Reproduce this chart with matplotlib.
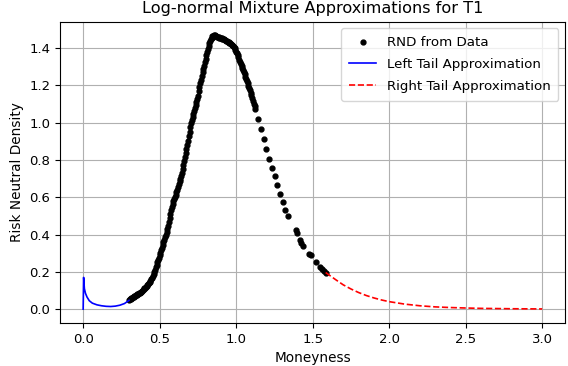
import matplotlib
matplotlib.use("Agg")
import matplotlib.pyplot as plt

# RND points read from the data (moneyness, density)
rnd_x = [0.300, 0.305, 0.310, 0.315, 0.320, 0.325, 0.330, 0.335, 0.340, 0.345,
         0.350, 0.355, 0.360, 0.365, 0.370, 0.375, 0.380, 0.385, 0.390, 0.395,
         0.400, 0.405, 0.410, 0.415, 0.420, 0.425, 0.430, 0.435, 0.440, 0.445,
         0.450, 0.455, 0.460, 0.465, 0.470, 0.475, 0.480, 0.485, 0.490, 0.495,
         0.500, 0.505, 0.510, 0.515, 0.520, 0.525, 0.530, 0.535, 0.540, 0.545,
         0.550, 0.555, 0.560, 0.565, 0.570, 0.575, 0.580, 0.585, 0.590, 0.595,
         0.600, 0.605, 0.610, 0.615, 0.620, 0.625, 0.630, 0.635, 0.640, 0.645,
         0.650, 0.655, 0.660, 0.665, 0.670, 0.675, 0.680, 0.685, 0.690, 0.695,
         0.700, 0.705, 0.710, 0.715, 0.720, 0.725, 0.730, 0.735, 0.740, 0.745,
         0.750, 0.755, 0.760, 0.765, 0.770, 0.775, 0.780, 0.785, 0.790, 0.795,
         0.800, 0.805, 0.810, 0.815, 0.820, 0.825, 0.830, 0.835, 0.840, 0.845,
         0.850, 0.855, 0.860, 0.865, 0.870, 0.875, 0.880, 0.885, 0.890, 0.895,
         0.900, 0.905, 0.910, 0.915, 0.920, 0.925, 0.930, 0.935, 0.940, 0.945,
         0.950, 0.955, 0.960, 0.965, 0.970, 0.975, 0.980, 0.985, 0.990, 0.995,
         1.000, 1.005, 1.010, 1.015, 1.020, 1.025, 1.030, 1.035, 1.040, 1.045,
         1.050, 1.055, 1.060, 1.065, 1.070, 1.075, 1.080, 1.085, 1.090, 1.095,
         1.100, 1.105, 1.110, 1.115, 1.120, 1.125,
         1.144, 1.162, 1.180, 1.197, 1.215, 1.232, 1.251, 1.268, 1.286, 1.303,
         1.321, 1.340, 1.388, 1.395, 1.417, 1.425, 1.439, 1.476, 1.487, 1.519,
         1.545, 1.559, 1.574, 1.585]
rnd_y = [0.050, 0.052, 0.055, 0.058, 0.060, 0.063, 0.066, 0.069, 0.071, 0.074,
         0.076, 0.079, 0.082, 0.084, 0.087, 0.090, 0.094, 0.098, 0.102, 0.106,
         0.111, 0.115, 0.120, 0.125, 0.130, 0.135, 0.141, 0.146, 0.152, 0.160,
         0.168, 0.177, 0.187, 0.199, 0.212, 0.225, 0.237, 0.250, 0.263, 0.276,
         0.289, 0.302, 0.315, 0.330, 0.345, 0.358, 0.372, 0.385, 0.398, 0.412,
         0.428, 0.448, 0.468, 0.490, 0.512, 0.530, 0.548, 0.565, 0.577, 0.588,
         0.599, 0.612, 0.627, 0.641, 0.656, 0.671, 0.686, 0.700, 0.714, 0.728,
         0.750, 0.772, 0.796, 0.816, 0.836, 0.856, 0.880, 0.903, 0.927, 0.950,
         0.974, 0.996, 1.012, 1.028, 1.044, 1.060, 1.077, 1.094, 1.110, 1.125,
         1.145, 1.168, 1.190, 1.210, 1.230, 1.250, 1.270, 1.288, 1.306, 1.324,
         1.342, 1.362, 1.381, 1.396, 1.410, 1.424, 1.438, 1.448, 1.456, 1.462,
         1.466, 1.468, 1.468, 1.466, 1.463, 1.461, 1.459, 1.458, 1.456, 1.454,
         1.452, 1.451, 1.450, 1.449, 1.447, 1.445, 1.443, 1.440, 1.437, 1.433,
         1.430, 1.427, 1.424, 1.420, 1.417, 1.414, 1.410, 1.404, 1.398, 1.390,
         1.381, 1.372, 1.362, 1.350, 1.338, 1.326, 1.314, 1.304, 1.294, 1.283,
         1.271, 1.259, 1.247, 1.235, 1.223, 1.210, 1.198, 1.186, 1.174, 1.161,
         1.147, 1.132, 1.117, 1.102, 1.088, 1.075,
         1.020, 0.966, 0.913, 0.859, 0.806, 0.757, 0.711, 0.663, 0.619, 0.576,
         0.533, 0.501, 0.422, 0.410, 0.369, 0.357, 0.339, 0.298, 0.289, 0.253,
         0.226, 0.214, 0.203, 0.196]

# Left tail approximation
left_x = [0.000, 0.003, 0.008, 0.015, 0.025, 0.040, 0.060, 0.090, 0.120, 0.150,
          0.180, 0.210, 0.240, 0.270, 0.300]
left_y = [0.000, 0.170, 0.110, 0.085, 0.065, 0.045, 0.032, 0.023, 0.018, 0.015,
          0.014, 0.016, 0.021, 0.030, 0.047]

# Right tail approximation
right_x = [1.585, 1.65, 1.70, 1.75, 1.80, 1.85, 1.90, 1.95, 2.00, 2.10,
           2.20, 2.30, 2.40, 2.50, 2.60, 2.70, 2.80, 2.90, 3.00]
right_y = [0.196, 0.158, 0.130, 0.108, 0.089, 0.073, 0.060, 0.049, 0.040, 0.027,
           0.018, 0.012, 0.0085, 0.006, 0.004, 0.003, 0.002, 0.0015, 0.001]

fig, ax = plt.subplots(figsize=(5.68, 3.66), dpi=100)
fig.subplots_adjust(left=0.106, right=0.995, top=0.941, bottom=0.118)

ax.plot(rnd_x, rnd_y, "k.", markersize=7, label="RND from Data")
ax.plot(left_x, left_y, color="blue", linewidth=1.2, label="Left Tail Approximation")
ax.plot(right_x, right_y, "r--", linewidth=1.2, label="Right Tail Approximation")

ax.set_title("Log-normal Mixture Approximations for T1", fontsize=11.6)
ax.set_xlabel("Moneyness", fontsize=9.8)
ax.set_ylabel("Risk Neutral Density", fontsize=9.8)
ax.tick_params(labelsize=9.5)
ax.legend(loc="upper right", fontsize=9.6, labelspacing=0.65, borderpad=0.6)
ax.grid(True)

plt.savefig("out.png", dpi=100)
